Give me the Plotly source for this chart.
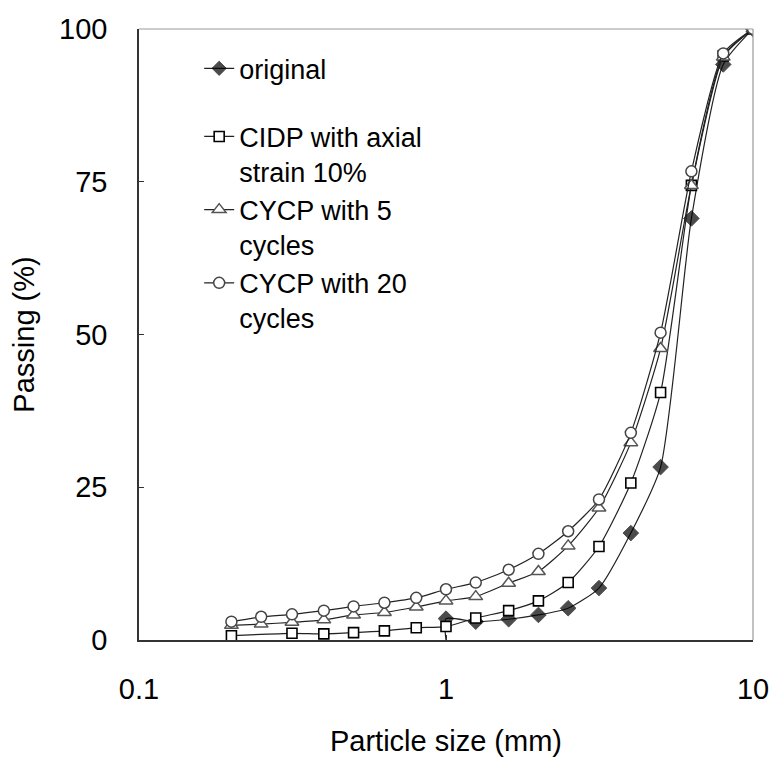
import plotly.graph_objects as go

# ---- data ----
sizes_all = [0.2, 0.25, 0.315, 0.4, 0.5, 0.63, 0.8, 1.0, 1.25, 1.6, 2.0, 2.5, 3.15, 4.0, 5.0, 6.3, 8.0, 10.0]

original_size = [1.0, 1.0, 1.25, 1.6, 2.0, 2.5, 3.15, 4.0, 5.0, 6.3, 8.0, 10.0]
original_pass = [0.0, 3.5, 3.0, 3.4, 4.1, 5.2, 8.5, 17.5, 28.3, 69.0, 94.2, 100.0]

cidp_size = [0.2, 0.315, 0.4, 0.5, 0.63, 0.8, 1.0, 1.25, 1.6, 2.0, 2.5, 3.15, 4.0, 5.0, 6.3, 8.0, 10.0]
cidp_pass = [0.7, 1.1, 1.0, 1.2, 1.5, 2.0, 2.2, 3.6, 4.8, 6.4, 9.4, 15.3, 25.7, 40.5, 74.4, 95.6, 100.0]

cycp5_pass = [2.4, 2.6, 2.9, 3.3, 4.1, 4.5, 5.4, 6.4, 7.1, 9.3, 11.2, 15.4, 21.6, 32.3, 47.7, 74.4, 95.4, 100.0]
cycp20_pass = [3.0, 3.8, 4.2, 4.8, 5.5, 6.1, 6.9, 8.3, 9.4, 11.5, 14.1, 17.8, 23.0, 33.9, 50.3, 76.7, 96.0, 100.0]

names = ["original", "CIDP with axial<br>strain 10%", "CYCP with 5<br>cycles", "CYCP with 20<br>cycles"]

x_ticks = [0.1, 1, 10]
x_ticktext = ["0.1", "1", "10"]
y_ticks = [0, 25, 50, 75, 100]

FONT = "Liberation Sans, Arial, sans-serif"

fig = go.Figure()

# original: first point (vertical drop to the axis) has no marker
orig_sizes = [0] + [12] * (len(original_size) - 1)
fig.add_trace(go.Scatter(
    x=original_size, y=original_pass, name=names[0], mode="lines+markers",
    line=dict(color="#222222", width=1.2, shape="spline", smoothing=0.6),
    marker=dict(symbol="diamond", size=orig_sizes, color="black",
                line=dict(color="black", width=1)),
    legendgroup="g1",
))
fig.add_trace(go.Scatter(
    x=cidp_size, y=cidp_pass, name=names[1], mode="lines+markers",
    line=dict(color="#222222", width=1.2, shape="spline", smoothing=0.6),
    marker=dict(symbol="square", size=10, color="white",
                line=dict(color="black", width=1.6)),
    legendgroup="g2",
))
fig.add_trace(go.Scatter(
    x=sizes_all, y=cycp5_pass, name=names[2], mode="lines+markers",
    line=dict(color="#222222", width=1.2, shape="spline", smoothing=0.6),
    marker=dict(symbol="triangle-up", size=12, color="white",
                line=dict(color="#555555", width=1.5)),
    legendgroup="g2",
))
fig.add_trace(go.Scatter(
    x=sizes_all, y=cycp20_pass, name=names[3], mode="lines+markers",
    line=dict(color="#222222", width=1.2, shape="spline", smoothing=0.6),
    marker=dict(symbol="circle", size=11, color="white",
                line=dict(color="#444444", width=1.5)),
    legendgroup="g2",
))

fig.update_layout(
    width=773, height=757,
    margin=dict(l=139, r=20, t=29, b=117),
    paper_bgcolor="white", plot_bgcolor="white",
    font=dict(family=FONT, size=29, color="black"),
    showlegend=True,
    legend=dict(
        x=0.098, y=0.975, xanchor="left", yanchor="top",
        bgcolor="rgba(0,0,0,0)", borderwidth=0,
        font=dict(family=FONT, size=27, color="black"),
        traceorder="grouped", tracegroupgap=30, valign="top",
        itemwidth=30,
    ),
    xaxis=dict(
        type="log", range=[-1, 1], tickvals=x_ticks, ticktext=x_ticktext,
        ticks="inside", ticklen=5, tickcolor="#333333",
        showline=True, linecolor="#333333", linewidth=1.5,
        showgrid=False, zeroline=False, automargin=False,
        ticklabelstandoff=22,
        tickfont=dict(family=FONT, size=29),
        title=dict(text="Particle size (mm)", font=dict(family=FONT, size=29), standoff=30),
    ),
    yaxis=dict(
        range=[0, 100], tickvals=y_ticks,
        ticks="inside", ticklen=5, tickcolor="#333333",
        showline=True, linecolor="#333333", linewidth=1.5,
        showgrid=False, zeroline=False, automargin=False,
        ticklabelstandoff=24,
        tickfont=dict(family=FONT, size=29),
        title=dict(text="Passing (%)", font=dict(family=FONT, size=29), standoff=16),
    ),
    shapes=[
        dict(type="line", xref="paper", yref="paper", x0=0, x1=1, y0=1, y1=1,
             line=dict(color="#999999", width=1.2)),
        dict(type="line", xref="paper", yref="paper", x0=1, x1=1, y0=0, y1=1,
             line=dict(color="#999999", width=1.2)),
    ],
)

fig.write_html(
    "out.html",
    config={"displayModeBar": False},
    post_script="document.body.style.margin='0';document.body.style.overflow='hidden';",
)
